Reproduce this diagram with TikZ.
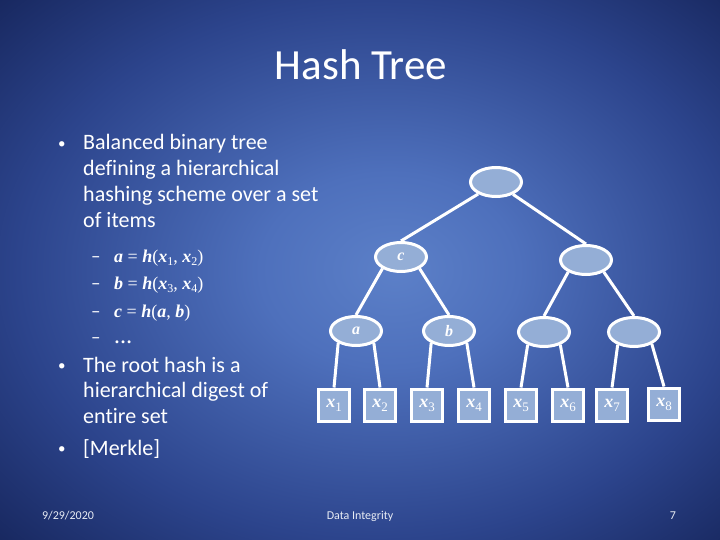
\documentclass[tikz,border=0pt]{standalone}
\usepackage{fontspec}
\setmainfont{Carlito}[Ligatures=NoCommon]
\newfontfamily\tnr{Liberation Serif}
\usetikzlibrary{shapes.geometric}
\definecolor{nodefill}{RGB}{148,174,214}
\definecolor{bgA}{RGB}{92,128,200}
\definecolor{bgB}{RGB}{78,112,188}
\definecolor{bgC}{RGB}{44,68,140}
\definecolor{bgD}{RGB}{24,40,96}
\definecolor{foot}{RGB}{232,236,244}
\pgfdeclareradialshading{bgshade}{\pgfpoint{2.5bp}{0bp}}{color(0bp)=(bgA); color(9bp)=(bgB); color(25bp)=(bgC); color(36bp)=(bgD); color(50bp)=(bgD)}
\newcommand\bi[1]{{\bfseries\itshape #1}}
\newcommand\msub[1]{\raisebox{-0.22em}{\fontsize{12}{12}\selectfont\mdseries\upshape #1}}
\newcommand\lsub[1]{\raisebox{-0.22em}{\fontsize{13}{13}\selectfont\mdseries\upshape #1}}
\newcommand\smallbullet{\raisebox{1.6pt}{\fontsize{15}{15}\selectfont •}}
\tikzset{
  hnode/.style={ellipse, draw=white, line width=3pt, fill=nodefill, minimum width=51pt, minimum height=29pt, inner sep=0pt, text=white, font=\tnr\fontsize{16}{16}\selectfont\bfseries\itshape},
  leaf/.style={rectangle, draw=white, line width=3pt, fill=nodefill, minimum width=31pt, minimum height=32pt, inner sep=0pt, text=white, font=\tnr\fontsize{18}{18}\selectfont},
  edge/.style={draw=white, line width=3pt},
  body/.style={anchor=base west, text=white, inner sep=0pt, font=\fontsize{22}{26}\selectfont},
  dashitem/.style={anchor=base west, text=white, inner sep=0pt, font=\fontsize{19}{20}\selectfont},
  mathitem/.style={anchor=base west, text=white, inner sep=0pt, font=\tnr\fontsize{18}{20}\selectfont},
  footer/.style={anchor=base, text=foot, inner sep=0pt, font=\fontsize{12}{14}\selectfont}
}
\begin{document}
\begin{tikzpicture}[x=1pt,y=-1pt]
\useasboundingbox (0,0) rectangle (720,540);
\shade[shading=bgshade] (0,0) rectangle (720,540);
% title
\node[anchor=base, text=white, inner sep=0pt, font=\fontsize{43}{50}\selectfont] (title) at (361,80) {Hash Tree};
% bullets
\node[body] (b1) at (58,150) {\smallbullet};
\node[body] (t1) at (83,150) {Balanced binary tree};
\node[body] (t2) at (83,176) {defining a hierarchical};
\node[body] (t3) at (83,202) {hashing scheme over a set};
\node[body] (t4) at (83,227) {of items};
\node[dashitem] (d1) at (91,262) {–};
\node[mathitem] (m1) at (114,262) {\bi{a} = \bi{h}(\bi{x}\msub{1}, \bi{x}\msub{2})};
\node[dashitem] (d2) at (91,289) {–};
\node[mathitem] (m2) at (114,289) {\bi{b} = \bi{h}(\bi{x}\msub{3}, \bi{x}\msub{4})};
\node[dashitem] (d3) at (91,317) {–};
\node[mathitem] (m3) at (114,317) {\bi{c} = \bi{h}(\bi{a}, \bi{b})};
\node[dashitem] (d4) at (91,343) {–};
\node[mathitem] (m4) at (114,343) {\bfseries …};
\node[body] (b2) at (58,372) {\smallbullet};
\node[body] (t5) at (83,372) {The root hash is a};
\node[body] (t6) at (83,397) {hierarchical digest of};
\node[body] (t7) at (83,423) {entire set};
\node[body] (b3) at (58,455) {\smallbullet};
\node[body] (t8) at (83,455) {[Merkle]};
% footer
\node[footer] (date) at (68,519) {9/29/2020};
\node[footer] (topic) at (360,519) {Data Integrity};
\node[footer] (page) at (673,519) {7};
% tree nodes
\node[hnode] (root) at (496,182) {};
\node[hnode] (c) at (401,257) {c};
\node[hnode] (r2) at (586,260) {};
\node[hnode] (a) at (356,331) {a};
\node[hnode] (b) at (449,331) {b};
\node[hnode] (n3) at (544,332) {};
\node[hnode] (n4) at (634,332) {};
\node[leaf] (x1) at (334,405) {\bi{x}\lsub{1}};
\node[leaf] (x2) at (380,405) {\bi{x}\lsub{2}};
\node[leaf] (x3) at (427,405) {\bi{x}\lsub{3}};
\node[leaf] (x4) at (474,405) {\bi{x}\lsub{4}};
\node[leaf] (x5) at (521,405) {\bi{x}\lsub{5}};
\node[leaf] (x6) at (568,405) {\bi{x}\lsub{6}};
\node[leaf] (x7) at (612,405) {\bi{x}\lsub{7}};
\node[leaf] (x8) at (664,404) {\bi{x}\lsub{8}};
% edges
\draw[edge] (root.214) -- (c.north);
\draw[edge] (root.-36) -- (r2.north);
\draw[edge] (c.212) -- (a.north);
\draw[edge] (c.-32) -- (b.north);
\draw[edge] (r2.214) -- (n3.north);
\draw[edge] (r2.-34) -- (n4.north);
\draw[edge] (a.214) -- (x1.north);
\draw[edge] (a.-34) -- (x2.north);
\draw[edge] (b.214) -- (x3.north);
\draw[edge] (b.-34) -- (x4.north);
\draw[edge] (n3.218) -- (x5.north);
\draw[edge] (n3.-38) -- (x6.north);
\draw[edge] (n4.218) -- (x7.north);
\draw[edge] (n4.-34) -- (x8.north);
\end{tikzpicture}
\end{document}
